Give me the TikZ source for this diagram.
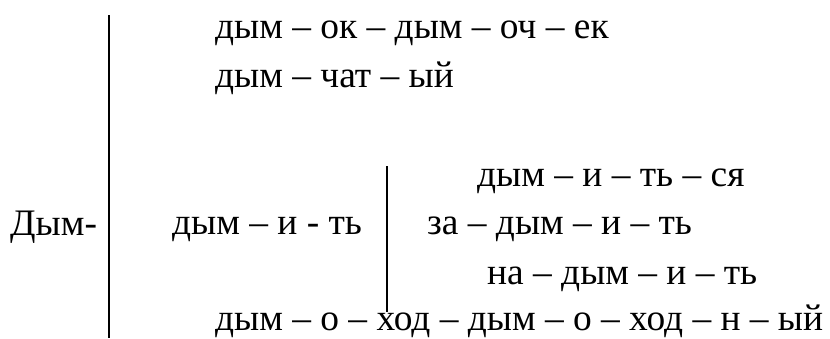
\documentclass[tikz,border=0pt]{standalone}
\usepackage{fontspec}
\setmainfont{Liberation Serif}
\begin{document}
\begin{tikzpicture}[x=1pt,y=-1pt,
  word/.style={anchor=base west,inner sep=0pt,font=\fontsize{37.4}{42}\selectfont},
  bar/.style={line width=2.2pt}]
  \useasboundingbox (0,0) rectangle (830,338);
  % root
  \node[word] (root) at (10,235) {Дым-};
  % main bracket
  \coordinate (barA1) at (109,15);
  \coordinate (barA2) at (109,338);
  \draw[bar] (barA1) -- (barA2);
  % derived words
  \node[word] (w1) at (215,38) {дым – ок – дым – оч – ек};
  \node[word] (w2) at (215,87) {дым – чат – ый};
  \node[word] (w3) at (172,234) {дым – и - ть};
  \node[word] (w7) at (215,330) {дым – о – ход – дым – о – ход – н – ый};
  % second bracket
  \coordinate (barB1) at (387,166);
  \coordinate (barB2) at (387,312);
  \draw[bar] (barB1) -- (barB2);
  \node[word] (w4) at (477,186) {дым – и – ть – ся};
  \node[word] (w5) at (427,234) {за – дым – и – ть};
  \node[word] (w6) at (487,284) {на – дым – и – ть};
\end{tikzpicture}
\end{document}
